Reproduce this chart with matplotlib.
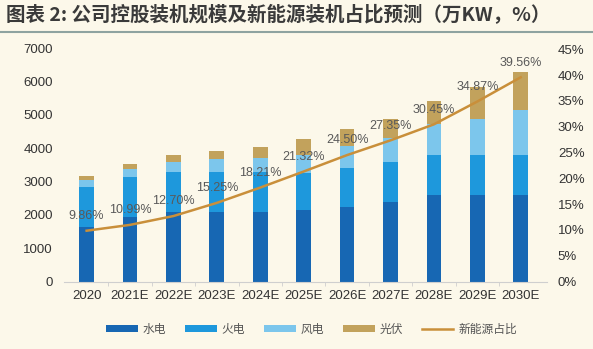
import numpy as np
import matplotlib.pyplot as plt
from matplotlib.lines import Line2D

plt.rcParams['font.family'] = ['Liberation Sans', 'Noto Sans CJK SC', 'DejaVu Sans']

years = ['2020', '2021E', '2022E', '2023E', '2024E', '2025E',
         '2026E', '2027E', '2028E', '2029E', '2030E']
hydro = [1650, 1950, 2100, 2100, 2100, 2150, 2250, 2400, 2600, 2600, 2600]
thermal = [1200, 1200, 1200, 1200, 1200, 1100, 1170, 1200, 1200, 1200, 1200]
wind = [200, 220, 300, 370, 400, 550, 650, 700, 920, 1080, 1350]
solar = [120, 160, 190, 250, 350, 480, 500, 570, 710, 970, 1150]
share = [9.86, 10.99, 12.70, 15.25, 18.21, 21.32, 24.50, 27.35, 30.45, 34.87, 39.56]

bg = '#fcf8ea'
c_hydro = '#1767b3'
c_thermal = '#1e98dc'
c_wind = '#7cc6ec'
c_solar = '#c2a25c'
c_line = '#c98f3a'

fig = plt.figure(figsize=(5.93, 3.49), dpi=100, facecolor=bg)
ax = fig.add_axes([0.108, 0.193, 0.814, 0.669], facecolor=bg)
ax2 = ax.twinx()

x = np.arange(len(years))
w = 0.34
b1 = np.array(hydro)
b2 = b1 + np.array(thermal)
b3 = b2 + np.array(wind)
ax.bar(x, hydro, w, color=c_hydro, label='水电')
ax.bar(x, thermal, w, bottom=b1, color=c_thermal, label='火电')
ax.bar(x, wind, w, bottom=b2, color=c_wind, label='风电')
ax.bar(x, solar, w, bottom=b3, color=c_solar, label='光伏')

ax2.plot(x, share, color=c_line, lw=1.8, zorder=3)
for xi, s in zip(x, share):
    ax2.text(xi, s + 1.7, f'{s:.2f}%', ha='center', va='bottom',
             fontsize=9, color='#595959')

ax.set_xlim(-0.52, 10.6)
ax.set_ylim(0, 7000)
ax.set_yticks(range(0, 7001, 1000))
ax2.set_ylim(0, 45.2)
ax2.set_yticks(range(0, 46, 5))
ax2.set_yticklabels([f'{v}%' for v in range(0, 46, 5)])
ax.set_xticks(x)
ax.set_xticklabels(years)
ax.set_xticks(x[:-1] + 0.5, minor=True)

for a in (ax, ax2):
    for s in ['top', 'left', 'right', 'bottom']:
        a.spines[s].set_visible(False)
    a.tick_params(labelsize=9.5, colors='#333333', length=0)
ax.spines['bottom'].set_visible(True)
ax.spines['bottom'].set_color('#cfcfcf')
ax.tick_params(axis='x', which='minor', length=3, color='#cfcfcf')
ax.tick_params(axis='x', pad=6)
ax.tick_params(axis='y', pad=8)
ax2.tick_params(axis='y', pad=8)

handles, labels = ax.get_legend_handles_labels()
handles.append(Line2D([], [], color=c_line, lw=1.8))
labels.append('新能源占比')
leg = fig.legend(handles, labels, loc='center', bbox_to_anchor=(0.525, 0.057),
                 ncol=5, frameon=False, handlelength=2.7, handleheight=0.6,
                 columnspacing=1.6, handletextpad=0.4,
                 prop={'family': ['Noto Sans CJK SC'], 'size': 8.5})
for t in leg.get_texts():
    t.set_color('#555555')

fig.text(0.01, 0.958, '图表 2: 公司控股装机规模及新能源装机占比预测（万KW，%）',
         fontsize=14, fontweight='bold', color='#3a3a3a', va='center',
         family=['Noto Sans CJK SC', 'DejaVu Sans'])
fig.add_artist(Line2D([0, 1], [0.908, 0.908], color='#8ea3a0', lw=1.5,
                      transform=fig.transFigure))

fig.savefig('out.png', dpi=100, facecolor=bg)
